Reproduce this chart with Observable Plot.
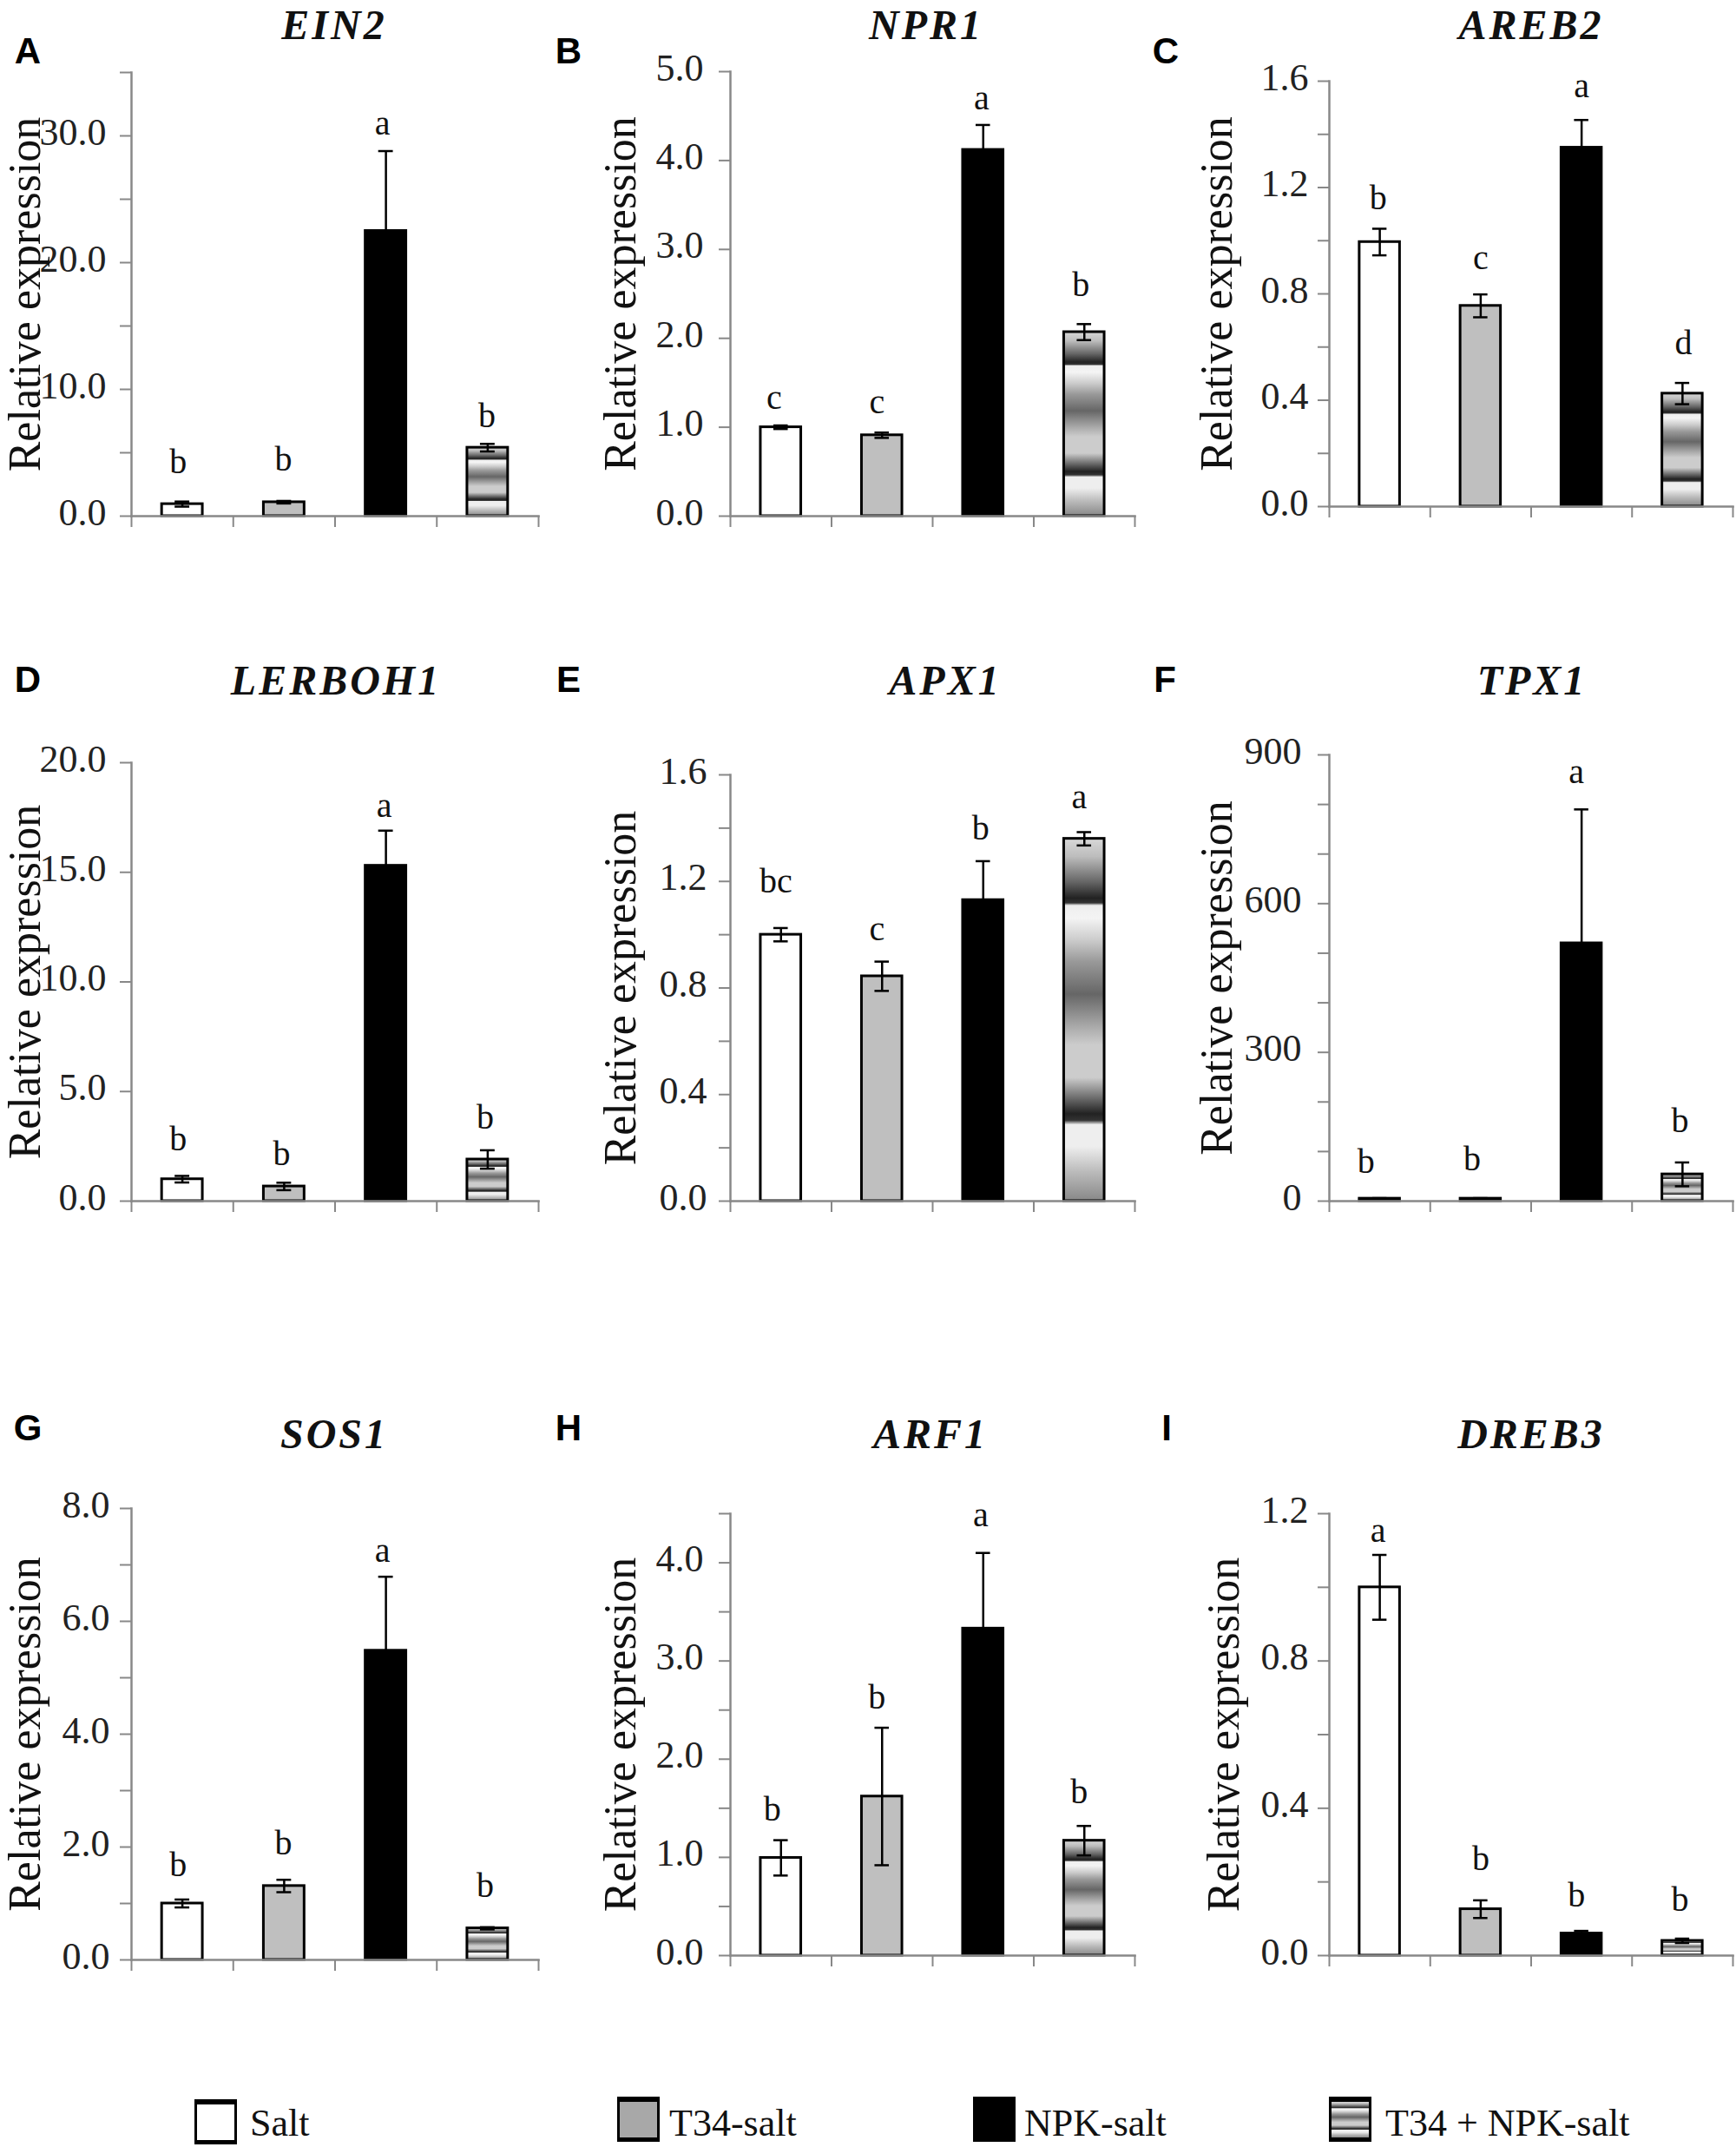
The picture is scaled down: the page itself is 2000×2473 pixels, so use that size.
<!DOCTYPE html>
<html>
<head>
<meta charset="utf-8">
<script src="https://cdn.jsdelivr.net/npm/d3@7"></script>
<script src="https://cdn.jsdelivr.net/npm/@observablehq/plot@0.6"></script>
<style>
  html, body { margin: 0; padding: 0; background: #fff; }
  #page { position: relative; width: 2000px; height: 2473px; overflow: hidden; }
  #page svg { position: absolute; overflow: visible; }
  .gene { position: absolute; transform: translate(-50%, -50%); font: italic bold 48px "Liberation Serif", serif; letter-spacing: 3px; color: #111; white-space: nowrap; }
  .tag { position: absolute; transform: translate(-50%, -50%); font: bold 42px "Liberation Sans", sans-serif; color: #000; }
  .swatch { position: absolute; box-sizing: border-box; border: 3px solid #000; }
  .legendText { position: absolute; transform: translateY(-50%); font: 44px "Liberation Serif", serif; color: #111; white-space: nowrap; }
</style>
</head>
<body>
<div id="page"></div>
<script>
// ---------- chart values ----------
const treatments = ["Salt", "T34-salt", "NPK-salt", "T34 + NPK-salt"];
const panelTags = ["A", "B", "C", "D", "E", "F", "G", "H", "I"];
const genes = ["EIN2", "NPR1", "AREB2", "LERBOH1", "APX1", "TPX1", "SOS1", "ARF1", "DREB3"];
const yLabel = "Relative expression";

const means = [
  [0.95, 1.1, 22.5, 5.4],
  [1.0, 0.91, 4.12, 2.07],
  [0.995, 0.755, 1.35, 0.425],
  [1.0, 0.67, 15.3, 1.9],
  [1.0, 0.844, 1.13, 1.36],
  [5, 5, 520, 54],
  [1.0, 1.31, 5.48, 0.56],
  [0.995, 1.62, 3.33, 1.17],
  [1.0, 0.126, 0.06, 0.04]
];
const errors = [
  [0.2, 0.1, 6.3, 0.3],
  [0.02, 0.03, 0.28, 0.09],
  [0.05, 0.043, 0.104, 0.04],
  [0.15, 0.17, 1.6, 0.42],
  [0.025, 0.055, 0.146, 0.025],
  [1, 1, 270, 24],
  [0.07, 0.11, 1.31, 0.02],
  [0.18, 0.7, 0.77, 0.15],
  [0.088, 0.024, 0.007, 0.006]
];
const groupLetters = [
  ["b", "b", "a", "b"],
  ["c", "c", "a", "b"],
  ["b", "c", "a", "d"],
  ["b", "b", "a", "b"],
  ["bc", "c", "b", "a"],
  ["b", "b", "a", "b"],
  ["b", "b", "a", "b"],
  ["b", "b", "a", "b"],
  ["a", "b", "b", "b"]
];
const letterHeights = [
  [4.06, 4.3, 30.8, 7.67],
  [1.3, 1.25, 4.67, 2.57],
  [1.15, 0.926, 1.572, 0.605],
  [2.71, 2.05, 17.9, 3.71],
  [1.19, 1.012, 1.39, 1.508],
  [74, 80, 860, 157],
  [1.64, 2.02, 7.21, 1.27],
  [1.46, 2.6, 4.46, 1.64],
  [1.146, 0.255, 0.156, 0.144]
];
const yMaxima = [35, 5, 1.6, 20, 1.6, 900, 8, 4.5, 1.2];
const tickLabels = [
  ["0.0", "10.0", "20.0", "30.0"],
  ["0.0", "1.0", "2.0", "3.0", "4.0", "5.0"],
  ["0.0", "0.4", "0.8", "1.2", "1.6"],
  ["0.0", "5.0", "10.0", "15.0", "20.0"],
  ["0.0", "0.4", "0.8", "1.2", "1.6"],
  ["0", "300", "600", "900"],
  ["0.0", "2.0", "4.0", "6.0", "8.0"],
  ["0.0", "1.0", "2.0", "3.0", "4.0"],
  ["0.0", "0.4", "0.8", "1.2"]
];
const tickMarks = [
  [0, 5, 10, 15, 20, 25, 30, 35],
  [0, 1, 2, 3, 4, 5],
  [0, 0.2, 0.4, 0.6, 0.8, 1.0, 1.2, 1.4, 1.6],
  [0, 5, 10, 15, 20],
  [0, 0.2, 0.4, 0.6, 0.8, 1.0, 1.2, 1.4, 1.6],
  [0, 100, 200, 300, 400, 500, 600, 700, 800, 900],
  [0, 1, 2, 3, 4, 5, 6, 7, 8],
  [0, 0.5, 1, 1.5, 2, 2.5, 3, 3.5, 4, 4.5],
  [0, 0.2, 0.4, 0.6, 0.8, 1.0, 1.2]
];

// ---------- page layout (pixels), kept apart from the values ----------
const frameLeft   = [151, 841, 1531, 151, 841, 1531, 151, 841, 1531];
const frameRight  = [620, 1307, 1996, 620, 1307, 1996, 620, 1307, 1996];
const frameTop    = [83, 82, 93, 878, 892, 869, 1737, 1743, 1743];
const frameBottom = [594, 594, 583, 1383, 1383, 1383, 2257, 2252, 2252];
const labelOffsets = [142, 146, 149, 142, 146, 149, 142, 146, 141];
const tickGaps    = [29, 31, 24, 29, 27, 32, 25, 31, 24];
const letterNudges = [
  [-5, -1, -4, -1], [-8, -6, -2, -4], [-2, 0, 0, 1],
  [-5, -3, -2, -3], [-6, -6, -3, -6], [-16, -10, -6, -3],
  [-5, -1, -4, -3], [-10, -6, -3, -6], [-2, 0, -6, -3]
];
const geneX = [385, 1067, 1764, 387, 1089, 1765, 385, 1072, 1764];
const geneY = [28, 28, 28, 783, 783, 783, 1651, 1651, 1651];
const tagX  = [32, 655, 1343, 32, 655, 1342, 32, 655, 1344];
const tagY  = [59, 59, 59, 783, 783, 783, 1645, 1645, 1645];

const stripeStops = [
  [0, "#d8d8d8"], [0.05, "#bdbdbd"], [0.12, "#666"], [0.165, "#222"], [0.178, "#333"], [0.185, "#eee"],
  [0.22, "#f4f4f4"], [0.28, "#ccc"], [0.34, "#999"], [0.43, "#666"], [0.52, "#aaa"], [0.57, "#ccc"],
  [0.66, "#ccc"], [0.70, "#888"], [0.76, "#222"], [0.778, "#333"], [0.79, "#eee"], [0.85, "#eee"],
  [0.92, "#bbb"], [1, "#888"]
];

const serif = '"Liberation Serif", serif';
const axisGrey = "#888";
const page = document.getElementById("page");
const marginLeft = 150, marginRight = 4, marginTop = 30, marginBottom = 16;

panelTags.forEach((tag, p) => {
  const rows = treatments.map((t, i) => ({
    treatment: t,
    mean: means[p][i],
    lo: means[p][i] - errors[p][i],
    hi: means[p][i] + errors[p][i],
    letter: groupLetters[p][i],
    letterAt: letterHeights[p][i]
  }));
  const gradientId = "stripes-" + tag;
  const fills = ["#fff", "#bfbfbf", "#000", `url(#${gradientId})`];
  const frameW = frameRight[p] - frameLeft[p];
  const step = frameW / treatments.length;
  const labelled = tickLabels[p].map(Number);

  const chart = Plot.plot({
    width: frameW + marginLeft + marginRight,
    height: frameBottom[p] - frameTop[p] + marginTop + marginBottom,
    marginLeft, marginRight, marginTop, marginBottom,
    style: { background: "transparent", overflow: "visible" },
    x: { domain: treatments, paddingInner: 0.6, paddingOuter: 0.3, align: 0.5, round: false },
    y: { domain: [0, yMaxima[p]] },
    color: { type: "identity" },
    marks: [
      () => {
        const defs = d3.create("svg:defs");
        const g = defs.append("linearGradient").attr("id", gradientId)
          .attr("x1", 0).attr("x2", 0).attr("y1", 0).attr("y2", 1);
        stripeStops.forEach(([o, c]) => g.append("stop").attr("offset", o).attr("stop-color", c));
        return defs.node();
      },
      Plot.barY(rows, {
        x: "treatment", y: "mean",
        fill: (d) => fills[treatments.indexOf(d.treatment)],
        stroke: "#000", strokeWidth: 3
      }),
      Plot.ruleX(rows, { x: "treatment", y1: "lo", y2: "hi", stroke: "#000", strokeWidth: 2.5 }),
      Plot.tickY(rows, { x: "treatment", y: "hi", insetLeft: 15, insetRight: 15, stroke: "#000", strokeWidth: 2.5 }),
      Plot.tickY(rows, { x: "treatment", y: "lo", insetLeft: 15, insetRight: 15, stroke: "#000", strokeWidth: 2.5 }),
      ...rows.map((r, i) => Plot.text([r], {
        x: "treatment", y: "letterAt", text: "letter", dx: letterNudges[p][i], dy: -3,
        fontFamily: serif, fontSize: 40, fill: "#111"
      })),
      Plot.frame({ anchor: "left", stroke: axisGrey, strokeWidth: 2.5 }),
      Plot.frame({ anchor: "bottom", stroke: axisGrey, strokeWidth: 2.5 }),
      Plot.axisY({ ticks: tickMarks[p], tickSize: 13, tickFormat: () => "", label: null, stroke: axisGrey, strokeWidth: 2 }),
      Plot.axisY({
        ticks: labelled, tickSize: 0, tickPadding: tickGaps[p], label: null, dy: -4,
        tickFormat: (d) => tickLabels[p][labelled.indexOf(d)],
        fontFamily: serif, fontSize: 44, fill: "#222"
      }),
      Plot.axisY({
        ticks: [], tickSize: 0, label: yLabel, labelAnchor: "center", labelArrow: "none",
        labelOffset: labelOffsets[p], fontFamily: serif, fontSize: 52, fill: "#111"
      }),
      Plot.axisX({ ticks: treatments, tickSize: 13, tickFormat: () => "", label: null, dx: step / 2, stroke: axisGrey, strokeWidth: 2 }),
      Plot.axisX({ ticks: treatments.slice(0, 1), tickSize: 13, tickFormat: () => "", label: null, dx: -step / 2, stroke: axisGrey, strokeWidth: 2 })
    ]
  });
  chart.style.left = (frameLeft[p] - marginLeft) + "px";
  chart.style.top = (frameTop[p] - marginTop) + "px";
  page.appendChild(chart);

  const geneEl = document.createElement("div");
  geneEl.className = "gene";
  geneEl.textContent = genes[p];
  geneEl.style.left = geneX[p] + "px";
  geneEl.style.top = geneY[p] + "px";
  page.appendChild(geneEl);

  const tagEl = document.createElement("div");
  tagEl.className = "tag";
  tagEl.textContent = tag;
  tagEl.style.left = tagX[p] + "px";
  tagEl.style.top = tagY[p] + "px";
  page.appendChild(tagEl);
});

// ---------- legend ----------
const swatchX = [224, 711, 1121, 1531];
const swatchTop = [2418, 2415, 2415, 2415];
const legendTextX = [288, 771, 1180, 1596];
const stripeCss = "linear-gradient(to bottom," + stripeStops.map(([o, c]) => `${c} ${o * 100}%`).join(",") + ")";
const swatchFills = ["#fff", "#a8a8a8", "#000", stripeCss];
treatments.forEach((t, i) => {
  const s = document.createElement("div");
  s.className = "swatch";
  s.style.cssText = `left:${swatchX[i]}px;top:${swatchTop[i]}px;width:49px;height:52px;background:${swatchFills[i]};border-top-width:6px;border-bottom-width:5px;`;
  page.appendChild(s);
  const l = document.createElement("div");
  l.className = "legendText";
  l.textContent = t;
  l.style.left = legendTextX[i] + "px";
  l.style.top = "2445px";
  page.appendChild(l);
});
</script>
</body>
</html>
